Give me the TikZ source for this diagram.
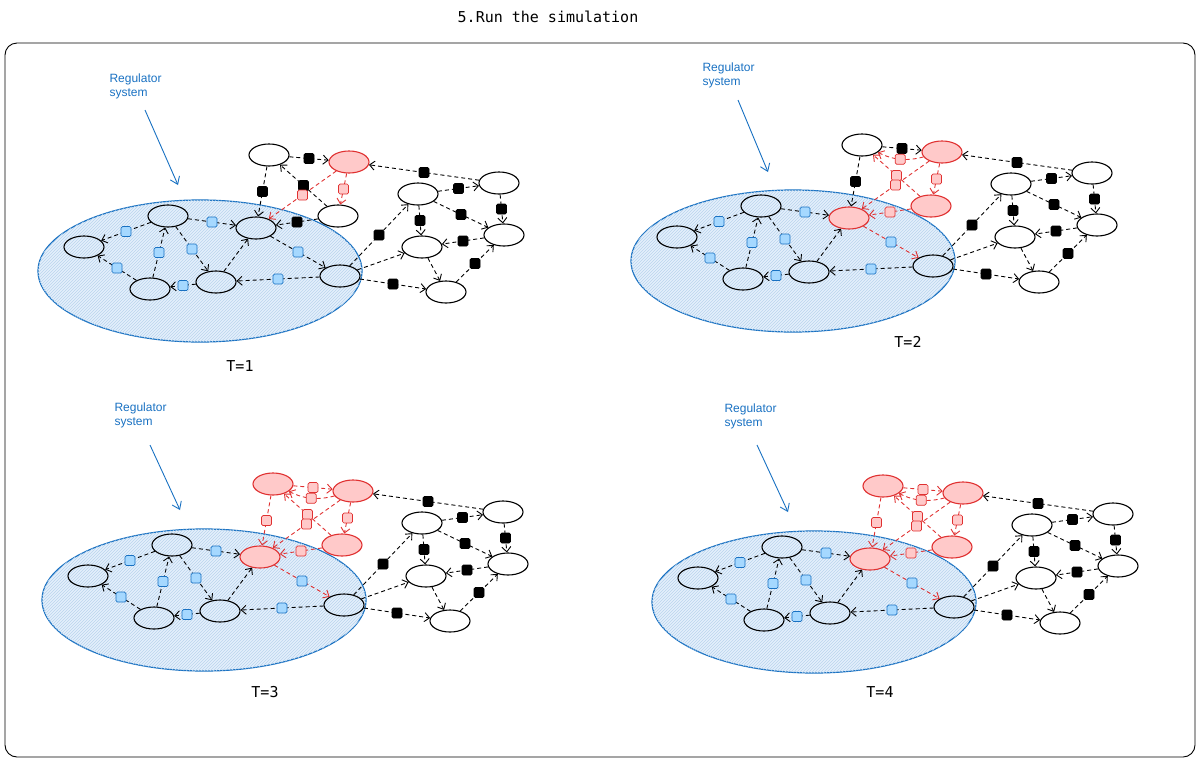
\documentclass[tikz,border=0pt]{standalone}
\usepackage{fontspec}
\setmainfont{Liberation Sans}
\setmonofont{DejaVu Sans Mono}
\usetikzlibrary{arrows.meta,patterns,shapes.geometric}
\definecolor{regblue}{RGB}{25,113,194}
\definecolor{regfill}{RGB}{228,240,252}
\definecolor{hotred}{RGB}{224,49,49}
\definecolor{hotfill}{RGB}{255,201,201}
\definecolor{markblue}{RGB}{165,216,255}
\tikzset{
  state/.style={ellipse,draw,line width=1.1pt,minimum width=40pt,minimum height=22pt,inner sep=0pt},
  hot/.style={draw=hotred,fill=hotfill},
  region/.style={draw=regblue,line width=1.2pt,preaction={fill=regfill},
    postaction={pattern=north east lines,pattern color=regblue!30}},
  link/.style={dashed,dash pattern=on 4pt off 3pt,line width=0.9pt,-{Straight Barb[length=5pt,width=9pt]}},
  mk/.style={rectangle,rounded corners=1.5pt,minimum size=10pt,inner sep=0pt,solid},
  km/.style={mk,fill=black,draw=black},
  rm/.style={mk,fill=hotfill,draw=hotred,line width=0.7pt},
  bm/.style={mk,fill=markblue,draw=regblue,line width=0.7pt},
  nm/.style={inner sep=0pt,minimum size=0pt},
  note/.style={text=regblue,font=\fontsize{12}{14}\selectfont,align=left,anchor=north west},
  pointer/.style={regblue,line width=0.9pt,-{Straight Barb[length=7pt,width=10pt]}},
  stamp/.style={font=\ttfamily\fontsize{15}{17}\selectfont}
}
% one panel: #1,#2 shift, #3 stage
\newcommand\drawpanel[3]{%
\begin{scope}[shift={(#1,#2)}]
  \draw[region] (200,271) ellipse [x radius=162,y radius=71];
  % nodes: name/x/y/stage from which it is red
  \foreach \n/\x/\y/\r in {A1/84/247/9,A2/168/216/9,A3/150/289/9,A4/216/282/9,
      A5/256/228/2,A6/340/276/9,T1/269/155/3,T2/349/162/1,T3/338/216/2,
      R1/418/194/9,R2/499/183/9,R3/504/235/9,R4/422/247/9,R5/446/292/9}{
    \ifnum#3<\r \node[state] (\n) at (\x,\y) {};
    \else \node[state,hot] (\n) at (\x,\y) {};\fi}
  % links: from/to/mark/red stage of source/first stage shown
  \foreach \s/\t/\m/\r/\e/\b in {A2/A1/bm/9/1/0,A3/A1/bm/9/1/0,A3/A2/bm/9/1/0,A4/A3/bm/9/1/0,
      A2/A4/bm/9/1/0,A2/A5/bm/9/1/0,A4/A5/nm/9/1/0,A5/A6/bm/2/1/0,A6/A4/bm/9/1/0,
      T1/T2/km/3/1/0,T1/A5/km/3/1/0,T3/T1/km/2/1/0,T3/A5/km/2/1/0,T2/A5/km/1/1/0,
      T2/T3/km/1/1/0,T2/T1/km/1/2/20,R2/T2/km/9/1/0,A6/R1/km/9/1/0,A6/R4/nm/9/1/0,
      A6/R5/km/9/1/0,R1/R3/km/9/1/0,R1/R4/km/9/1/0,R1/R2/km/9/1/0,R2/R3/km/9/1/0,
      R3/R4/km/9/1/0,R4/R5/nm/9/1/0,R5/R3/km/9/1/0}{
    \ifnum#3<\e\else
      \ifnum#3<\r \def\lc{black}\else\def\lc{hotred}\fi
      \def\kk{km}\let\mc\m
      \ifx\m\kk \ifnum#3<\r \def\mc{km}\else\def\mc{rm}\fi\fi
      \draw[link,\lc] (\s) to[bend left=\b] node[\mc] {} (\t);
    \fi}
\end{scope}}

\begin{document}
\begin{tikzpicture}[x=1pt,y=-1pt]
\useasboundingbox (0,0) rectangle (1200,761);
\node[stamp] (title) at (548,17) {5.Run the simulation};
\draw[line width=0.9pt,rounded corners=12pt] (5,43) rectangle (1195,757);

\drawpanel{0}{0}{1}
\drawpanel{593}{-10}{2}
\drawpanel{4}{329}{3}
\drawpanel{614}{331}{4}

\node[note] (reg1) at (106,70) {Regulator\\system};
\node[note] (reg2) at (699,59) {Regulator\\system};
\node[note] (reg3) at (111,399) {Regulator\\system};
\node[note] (reg4) at (721,400) {Regulator\\system};
\coordinate (tip1) at (178,185);
\coordinate (tip2) at (768,172);
\coordinate (tip3) at (180,510);
\coordinate (tip4) at (788,512);
\draw[pointer] (145,110) -- (tip1);
\draw[pointer] (738,100) -- (tip2);
\draw[pointer] (150,445) -- (tip3);
\draw[pointer] (757,445) -- (tip4);

\node[stamp] (t1) at (240,366) {T=1};
\node[stamp] (t2) at (908,342) {T=2};
\node[stamp] (t3) at (265,692) {T=3};
\node[stamp] (t4) at (880,692) {T=4};
\end{tikzpicture}
\end{document}
